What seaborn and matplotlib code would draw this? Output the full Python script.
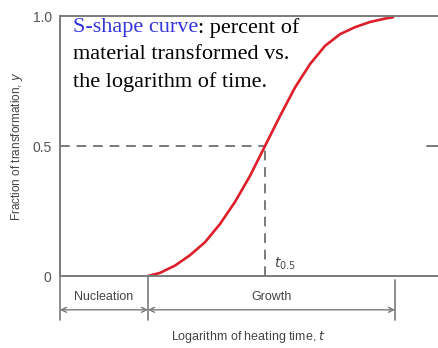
import matplotlib
matplotlib.use("Agg")
import matplotlib.pyplot as plt
import matplotlib.transforms as mtransforms
import seaborn as sns
import pandas as pd

# Data (log heating time in arbitrary units, fraction transformed)
log_time = [0.88, 1.00, 1.15, 1.30, 1.45, 1.60, 1.75, 1.90, 2.05, 2.20,
            2.35, 2.50, 2.65, 2.80, 2.95, 3.10, 3.25, 3.33]
fraction = [0.00, 0.012, 0.04, 0.08, 0.13, 0.20, 0.285, 0.385, 0.50, 0.615,
            0.725, 0.815, 0.885, 0.93, 0.957, 0.977, 0.99, 0.995]
y_ticks = [0, 0.5, 1.0]
y_ticklabels = ["0", "0.5", "1.0"]
t_half = 2.05
nucleation_end = 0.88
growth_end = 3.35
x_max = 3.78
phase_labels = ["Nucleation", "Growth"]

df = pd.DataFrame({"log_time": log_time, "fraction": fraction})

sns.set_style("white")
plt.rcParams["font.family"] = ["Liberation Sans", "DejaVu Sans"]

fig = plt.figure(figsize=(4.38, 3.48), dpi=100)
ax = fig.add_axes([60 / 438, 72 / 348, 378 / 438, 260 / 348])

gray = "#7a7a7a"
txt = "#444444"

# dashed guide lines
ax.plot([0, t_half], [0.5, 0.5], ls=(0, (5, 3.5)), color=gray, lw=1.4)
ax.plot([t_half, t_half], [0, 0.5], ls=(0, (5, 3.5)), color=gray, lw=1.4)
ax.plot([3.67, x_max], [0.5, 0.5], ls="-", color=gray, lw=1.4)

sns.lineplot(data=df, x="log_time", y="fraction", ax=ax, color="#dd1f2b",
             lw=1.9, sort=True, estimator=None)

ax.set_xlim(0, x_max)
ax.set_ylim(0, 1.0)
ax.set_yticks(y_ticks)
ax.set_yticklabels(y_ticklabels)
ax.set_xticks([])
ax.tick_params(axis="y", length=0, pad=6, labelsize=10, labelcolor="#555555")

for s in ["left", "bottom", "top"]:
    ax.spines[s].set_color(gray)
    ax.spines[s].set_linewidth(1.4)
ax.spines["right"].set_visible(False)

ax.set_ylabel("Fraction of transformation, $y$", fontsize=8.5, color=txt, labelpad=5)
ax.set_xlabel("Logarithm of heating time, $t$", fontsize=9, color=txt, labelpad=38)

# t0.5 label
ax.text(t_half + 0.09, 0.015, r"$t_{0.5}$", fontsize=10, color=txt, ha="left", va="bottom")

# Below-axis phase markers
trans = mtransforms.blended_transform_factory(ax.transData, ax.transAxes)
for xv, y0 in [(0, 0), (nucleation_end, 0), (growth_end, -0.015)]:
    ax.plot([xv, xv], [y0, -0.17], color=gray, lw=1.2, transform=trans, clip_on=False)

arrow_y = -0.13
for (a, b), lab in zip([(0, nucleation_end), (nucleation_end, growth_end)], phase_labels):
    ax.annotate("", xy=(b, arrow_y), xytext=(a, arrow_y), xycoords=trans, textcoords=trans,
                arrowprops=dict(arrowstyle="<->", color=gray, lw=1.0,
                                shrinkA=0, shrinkB=0, mutation_scale=9))
    ax.text((a + b) / 2, -0.08, lab, transform=trans, ha="center", va="center",
            fontsize=9, color=txt)

# Annotation text box
serif = ["Liberation Serif", "DejaVu Serif"]
fs = 16
t1 = ax.text(0.034, 0.955, "S-shape curve", transform=ax.transAxes, fontsize=fs,
             family=serif, color="#3535dd", va="center", ha="left")
ax.annotate(": percent of", xy=(1, 0.5), xycoords=t1, va="center", ha="left",
            fontsize=fs, family=serif, color="black")
ax.text(0.034, 0.852, "material transformed vs.", transform=ax.transAxes, fontsize=fs,
        family=serif, color="black", va="center", ha="left")
ax.text(0.034, 0.746, "the logarithm of time.", transform=ax.transAxes, fontsize=fs,
        family=serif, color="black", va="center", ha="left")

fig.savefig("out.png", dpi=100)
